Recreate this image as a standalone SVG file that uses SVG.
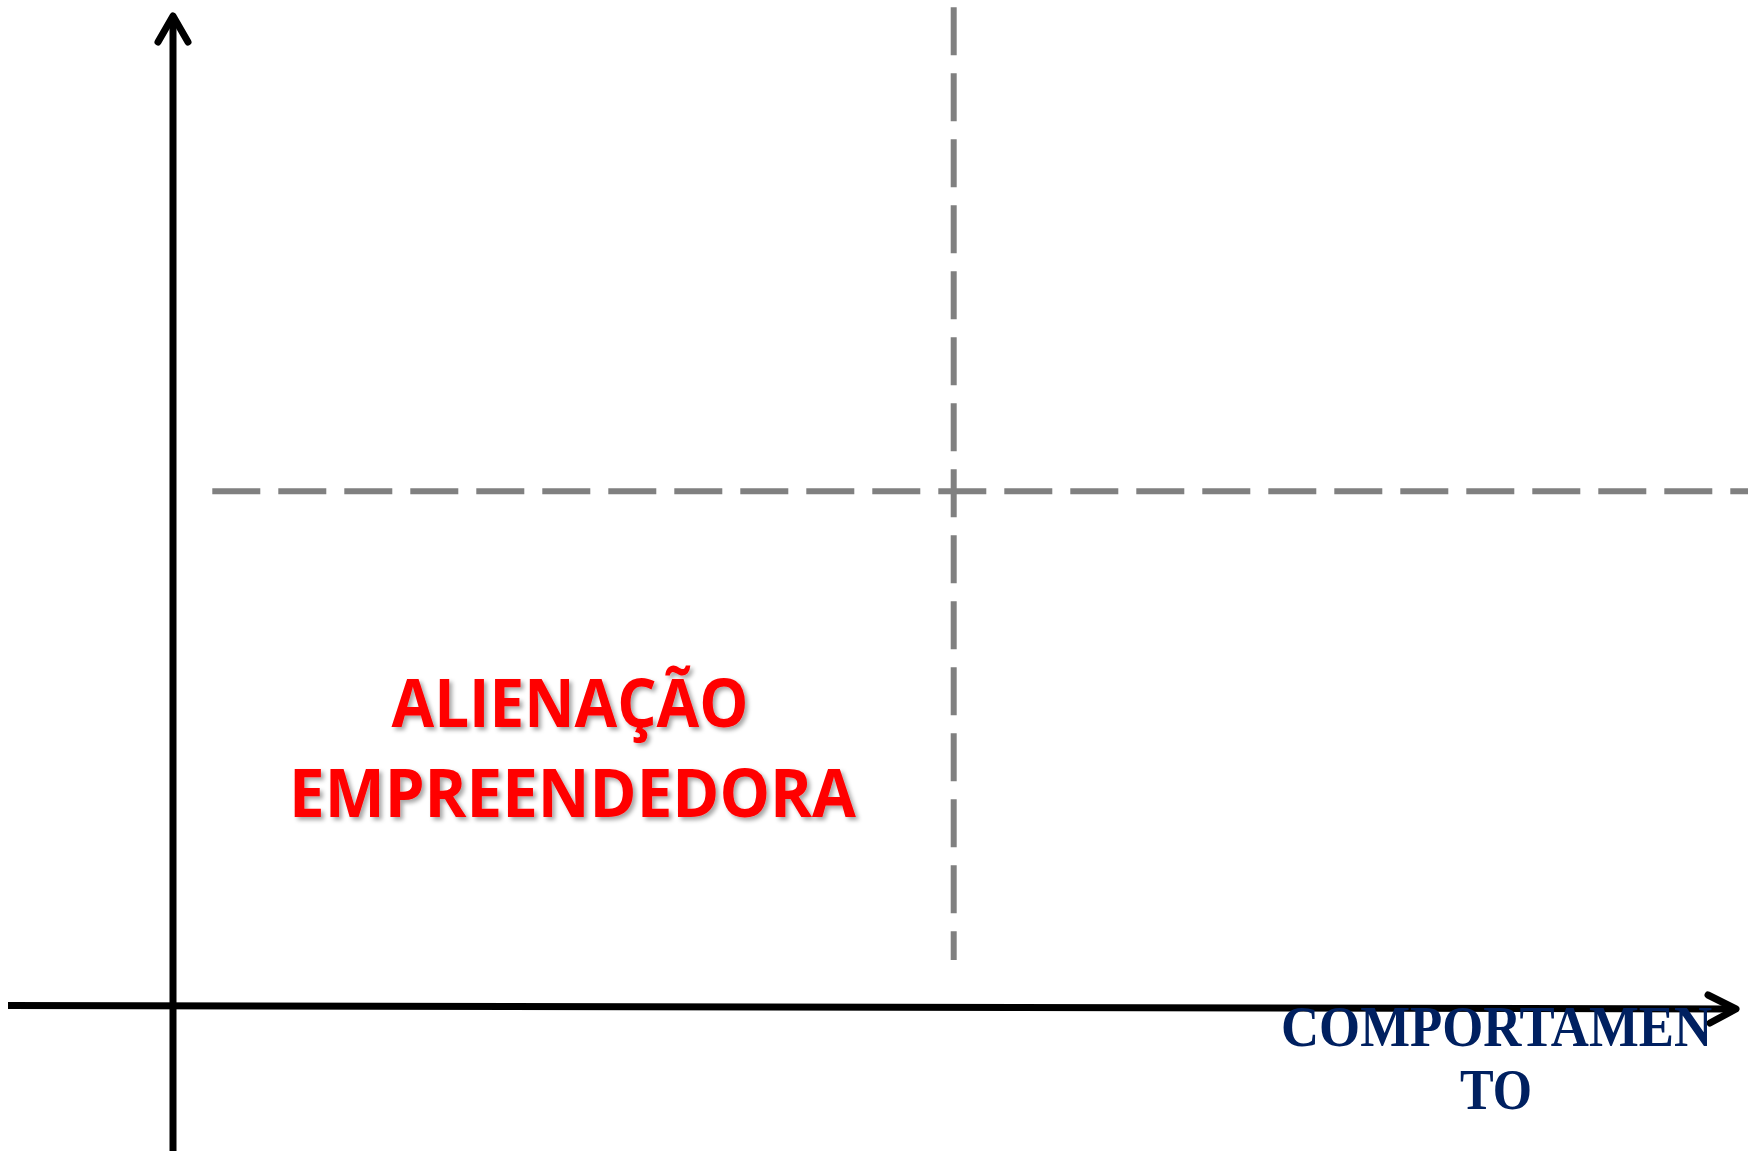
<svg xmlns="http://www.w3.org/2000/svg" width="1748" height="1151" viewBox="0 0 1748 1151">
<style>
.axis{stroke:#000;stroke-width:7;fill:none;stroke-linecap:round;stroke-linejoin:round}
.dash{stroke:#808080;stroke-width:6;fill:none;stroke-dasharray:48 18}
.red{font-family:"Open Sans","Liberation Sans",sans-serif;font-weight:bold;fill:#FF0000;font-size:66px}
.blue{font-family:"Liberation Serif",serif;font-weight:bold;fill:#002060;font-size:56px}
</style>
<defs>
<filter id="sh" x="-10%" y="-20%" width="120%" height="150%">
<feDropShadow dx="3" dy="3" stdDeviation="2" flood-color="#000" flood-opacity="0.35"/>
</filter>
</defs>
<rect width="1748" height="1151" fill="#fff"/>
<g id="connectors">
<line class="dash" x1="953.7" y1="7.3" x2="953.7" y2="960"/>
<line class="dash" x1="212.3" y1="491.3" x2="1748" y2="491.3"/>
<line class="axis" x1="173" y1="1155" x2="173" y2="16" style="stroke-linecap:butt"/>
<polyline class="axis" points="158,42 173,16 188,42"/>
<line class="axis" x1="8" y1="1005.5" x2="1735" y2="1009" style="stroke-linecap:butt"/>
<polyline class="axis" points="1708,995 1736,1009 1710,1023"/>
</g>
<g id="label-alienacao" filter="url(#sh)">
<text class="red" x="570" y="727" text-anchor="middle" textLength="357" lengthAdjust="spacingAndGlyphs">ALIENAÇÃO</text>
<text class="red" x="572.5" y="817" text-anchor="middle" textLength="567" lengthAdjust="spacingAndGlyphs">EMPREENDEDORA</text>
</g>
<g id="label-comportamento">
<text class="blue" x="1496.5" y="1046" text-anchor="middle" textLength="431" lengthAdjust="spacingAndGlyphs">COMPORTAMEN</text>
<text class="blue" x="1496" y="1109" text-anchor="middle" textLength="72" lengthAdjust="spacingAndGlyphs">TO</text>
</g>
</svg>
